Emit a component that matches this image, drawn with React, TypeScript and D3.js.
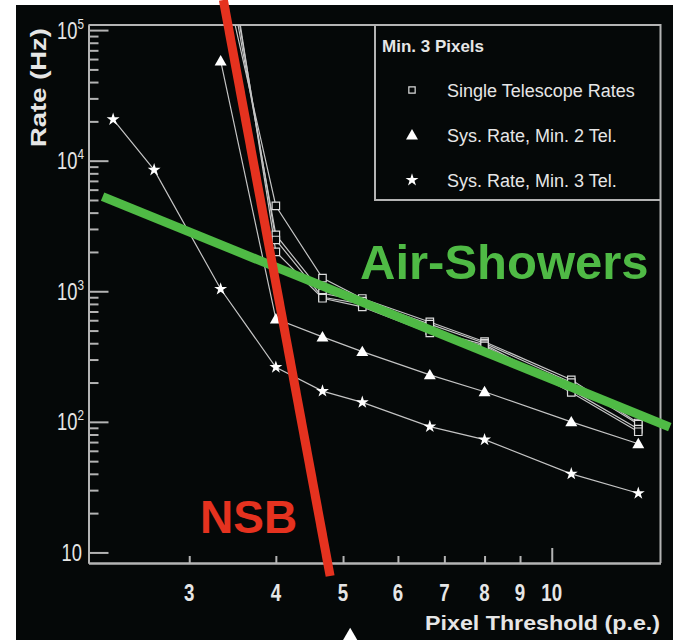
import React, { useRef, useEffect } from 'react';
import * as d3 from 'd3';

// pixel thresholds (p.e.) and rates (Hz)
const thresholds = [2.33, 2.67, 3.33, 4, 4.67, 5.33, 6.67, 8, 10.67, 13.33];
const telThresholds = [3.33, 4, 4.67, 5.33, 6.67, 8, 10.67, 13.33];

const tel1Rates = [340000, 4500, 1260, 880, 582, 411, 210, 98];
const tel2Rates = [600000, 2700, 966, 840, 560, 400, 200, 96];
const tel3Rates = [800000, 2470, 900, 800, 500, 390, 175, 88];
const tel4Rates = [1000000, 2000, 884, 760, 480, 381, 168, 84];

const sys2Rates = [58000, 614, 447, 345, 229, 170, 100, 68];
const sys3Rates = [20700, 8500, 1040, 262, 172, 141, 92, 73, 40, 28.4];

const xTickValues = [3, 4, 5, 6, 7, 8, 9, 10];
const yDecades = [10, 100, 1000, 10000, 100000];

// annotation lines (threshold, rate) end points
const nsbThresholds = [3.36, 4.79];
const nsbRates = [170000, 6.6];
const airThresholds = [2.25, 14.8];
const airRates = [5300, 91];
const markerThreshold = 5.12;

const legendTitle = "Min. 3 Pixels";
const legendLabels = ["Single Telescope Rates", "Sys. Rate, Min. 2 Tel.", "Sys. Rate, Min. 3 Tel."];

const FONT = "'Liberation Sans', Arial, Helvetica, sans-serif";

const App = () => {
    const svgRef = useRef(null);

    useEffect(() => {
        const svgWidth = 673;
        const svgHeight = 640;
        const margin = { top: 25, right: 12.5, bottom: 77, left: 88.5 };

        const axisColor = "#b4b4b4";
        const lineColor = "#c4c4c4";
        const red = "#e5321f";
        const green = "#4fba45";

        const svg = d3.select(svgRef.current)
            .attr("width", svgWidth)
            .attr("height", svgHeight);
        svg.selectAll("*").remove();

        svg.append("rect")
            .attr("x", 16).attr("y", 5)
            .attr("width", svgWidth - 16).attr("height", svgHeight - 5)
            .attr("fill", "#050808");

        const left = margin.left;
        const right = svgWidth - margin.right;
        const top = margin.top;
        const bottom = svgHeight - margin.bottom;

        const xScale = d3.scaleLog().domain([2.147, 14.35]).range([left, right]);
        const yScale = d3.scaleLog().domain([8.3, 109400]).range([bottom, top]);

        svg.append("clipPath").attr("id", "plot-clip")
            .append("rect")
            .attr("x", left).attr("y", top)
            .attr("width", right - left).attr("height", bottom - top);

        // axes with inward ticks
        const styleAxis = (g) => {
            g.select(".domain").attr("stroke", axisColor).attr("stroke-width", 2);
            g.selectAll(".tick line").attr("stroke", axisColor).attr("stroke-width", 2);
            g.selectAll(".tick text").remove();
        };

        const yMinor = [];
        yDecades.slice(0, -1).forEach((d) => {
            d3.range(2, 10).forEach((m) => yMinor.push(d * m));
        });

        svg.append("g")
            .attr("transform", `translate(${left},0)`)
            .call(d3.axisRight(yScale).tickValues(yMinor).tickSize(10).tickSizeOuter(0))
            .call(styleAxis);
        svg.append("g")
            .attr("transform", `translate(${left},0)`)
            .call(d3.axisRight(yScale).tickValues(yDecades).tickSize(20).tickSizeOuter(0))
            .call(styleAxis);

        svg.append("g")
            .attr("transform", `translate(0,${bottom})`)
            .call(d3.axisTop(xScale).tickValues(xTickValues.filter((t) => t < 10)).tickSize(7).tickSizeOuter(0))
            .call(styleAxis);
        svg.append("g")
            .attr("transform", `translate(0,${bottom})`)
            .call(d3.axisTop(xScale).tickValues([10]).tickSize(15).tickSizeOuter(0))
            .call(styleAxis);

        // frame top and right
        svg.append("path")
            .attr("d", `M${left},${top}H${right}V${bottom}`)
            .attr("fill", "none")
            .attr("stroke", axisColor)
            .attr("stroke-width", 2);

        // y tick labels
        yDecades.forEach((d) => {
            const exp = Math.round(Math.log10(d));
            const t = svg.append("text")
                .attr("transform", `translate(${exp === 1 ? 82 : 84},${yScale(d) + 8.5}) scale(0.78,1)`)
                .attr("text-anchor", "end")
                .attr("font-family", FONT)
                .attr("font-size", 23.5)
                .attr("fill", "#e6e6e6")
                .text("10");
            if (exp > 1) {
                t.append("tspan")
                    .attr("dy", -10)
                    .attr("font-size", 15)
                    .text(exp);
            }
        });

        // x tick labels
        xTickValues.forEach((v) => {
            svg.append("text")
                .attr("transform", `translate(${xScale(v)},${601}) scale(0.78,1)`)
                .attr("text-anchor", "middle")
                .attr("font-family", FONT)
                .attr("font-weight", "bold")
                .attr("font-size", 24)
                .attr("fill", "#e6e6e6")
                .text(v);
        });

        svg.append("text")
            .attr("x", 425).attr("y", 630)
            .attr("textLength", 235)
            .attr("lengthAdjust", "spacingAndGlyphs")
            .attr("font-family", FONT)
            .attr("font-weight", "bold")
            .attr("font-size", 21)
            .attr("fill", "#e6e6e6")
            .text("Pixel Threshold (p.e.)");

        svg.append("text")
            .attr("transform", `translate(46,${87.5}) rotate(-90)`)
            .attr("text-anchor", "middle")
            .attr("textLength", 119)
            .attr("lengthAdjust", "spacingAndGlyphs")
            .attr("font-family", FONT)
            .attr("font-weight", "bold")
            .attr("font-size", 22)
            .attr("fill", "#e6e6e6")
            .text("Rate (Hz)");

        // data
        const line = d3.line()
            .x((d) => xScale(d[0]))
            .y((d) => yScale(d[1]));

        const plot = svg.append("g").attr("clip-path", "url(#plot-clip)");

        const telSeries = [tel1Rates, tel2Rates, tel3Rates, tel4Rates]
            .map((rates) => telThresholds.map((t, i) => [t, rates[i]]));
        const sys2Series = telThresholds.map((t, i) => [t, sys2Rates[i]]);
        const sys3Series = thresholds.map((t, i) => [t, sys3Rates[i]]);

        [...telSeries, sys2Series, sys3Series].forEach((s) => {
            plot.append("path")
                .datum(s)
                .attr("fill", "none")
                .attr("stroke", lineColor)
                .attr("stroke-width", 1.2)
                .attr("d", line);
        });

        const square = d3.symbol(d3.symbolSquare, 56)();
        const triangle = d3.symbol(d3.symbolTriangle, 62)();
        const star = d3.symbol(d3.symbolStar, 52)();

        telSeries.forEach((s) => {
            plot.selectAll(null)
                .data(s)
                .enter()
                .append("path")
                .attr("d", square)
                .attr("transform", (d) => `translate(${xScale(d[0])},${yScale(d[1])})`)
                .attr("fill", "#050808")
                .attr("stroke", "#dcdcdc")
                .attr("stroke-width", 1.2);
        });

        plot.selectAll(null)
            .data(sys2Series)
            .enter()
            .append("path")
            .attr("d", triangle)
            .attr("transform", (d) => `translate(${xScale(d[0])},${yScale(d[1]) + 1})`)
            .attr("fill", "#ffffff");

        plot.selectAll(null)
            .data(sys3Series)
            .enter()
            .append("path")
            .attr("d", star)
            .attr("transform", (d) => `translate(${xScale(d[0])},${yScale(d[1])})`)
            .attr("fill", "#ffffff");

        // stray marker below the axis
        svg.append("path")
            .attr("d", d3.symbol(d3.symbolTriangle, 90)())
            .attr("transform", `translate(${xScale(markerThreshold)},${636})`)
            .attr("fill", "#ffffff");

        // legend
        svg.append("path")
            .attr("d", `M375,${top}V200H${right}`)
            .attr("fill", "none")
            .attr("stroke", axisColor)
            .attr("stroke-width", 2);

        svg.append("text")
            .attr("x", 382).attr("y", 52)
            .attr("font-family", FONT)
            .attr("font-weight", "bold")
            .attr("font-size", 17)
            .attr("fill", "#e6e6e6")
            .text(legendTitle);

        const legendSymbols = [d3.symbol(d3.symbolSquare, 40)(), triangle, star];
        legendLabels.forEach((label, i) => {
            const cy = 90 + i * 45;
            svg.append("path")
                .attr("d", legendSymbols[i])
                .attr("transform", `translate(412,${cy + (i === 1 ? 1 : 0)})`)
                .attr("fill", i === 0 ? "#050808" : "#ffffff")
                .attr("stroke", i === 0 ? "#dcdcdc" : "none")
                .attr("stroke-width", 1.2);
            svg.append("text")
                .attr("x", 447).attr("y", cy + 6.5)
                .attr("font-family", FONT)
                .attr("font-size", 18)
                .attr("fill", "#e6e6e6")
                .text(label);
        });

        // Air-Showers and NSB lines
        svg.append("path")
            .datum(airThresholds.map((t, i) => [t, airRates[i]]))
            .attr("fill", "none")
            .attr("stroke", green)
            .attr("stroke-width", 9)
            .attr("d", line);

        svg.append("path")
            .datum(nsbThresholds.map((t, i) => [t, nsbRates[i]]))
            .attr("fill", "none")
            .attr("stroke", red)
            .attr("stroke-width", 9)
            .attr("d", line);

        svg.append("text")
            .attr("x", 360).attr("y", 279)
            .attr("font-family", FONT)
            .attr("font-weight", "bold")
            .attr("font-size", 49)
            .attr("fill", green)
            .text("Air-Showers");

        svg.append("text")
            .attr("x", 200).attr("y", 533)
            .attr("font-family", FONT)
            .attr("font-weight", "bold")
            .attr("font-size", 46)
            .attr("fill", red)
            .text("NSB");
    }, []);

    return (
        <div>
            <svg ref={svgRef} style={{ position: 'absolute', left: 0, top: 0 }} />
        </div>
    );
};

export default App;
